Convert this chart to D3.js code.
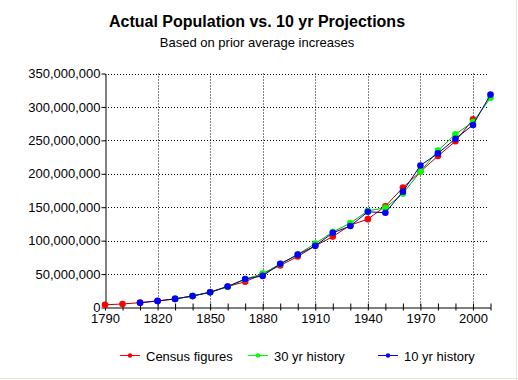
<!DOCTYPE html>
<html>
<head>
<meta charset="utf-8">
<script src="https://cdn.jsdelivr.net/npm/d3@7"></script>
<style>
  body { margin: 0; background: #fff; }
  svg { display: block; font-family: "Liberation Sans", Arial, sans-serif; }
</style>
</head>
<body>
<div id="chart"></div>
<script>
// census years and values (millions)
var years = [1790,1800,1810,1820,1830,1840,1850,1860,1870,1880,1890,1900,1910,1920,1930,1940,1950,1960,1970,1980,1990,2000,2010];
var census = [3.93,5.31,7.24,9.64,12.87,17.07,23.19,31.44,38.56,50.19,62.98,76.21,92.23,106.02,123.2,132.16,151.33,179.32,203.3,226.54,248.71,281.42,null];
var hist30 = [null,null,null,null,13.0,17.29,22.72,31.07,42.35,50.6,64.92,79.39,95.64,112.96,126.14,144.6,149.0,170.4,203.24,234.67,259.19,277.36,313.64];
var hist10 = [null,null,7.17,9.87,12.84,17.18,22.64,31.5,42.62,47.29,65.33,79.03,92.22,111.62,121.87,143.16,141.77,173.28,212.49,230.49,252.44,273.05,318.43];
var seriesNames = ["Census figures","30 yr history","10 yr history"];
var yTicks = [0,50,100,150,200,250,300,350];
var xLabels = [1790,1820,1850,1880,1910,1940,1970,2000];

var w = 518, h = 380;
var plotL = 105, plotR = 490.5, plotT = 73.5, plotB = 307.5;

var svg = d3.select("#chart").append("svg")
  .attr("width", w).attr("height", h);

svg.append("rect").attr("width", w).attr("height", h).attr("fill", "#fff");
// faint frame at right and bottom
svg.append("line").attr("x1", w - 1.5).attr("x2", w - 1.5).attr("y1", 0).attr("y2", h)
  .attr("stroke", "#e4e4dc");
svg.append("line").attr("x1", 0).attr("x2", w).attr("y1", h - 1.5).attr("y2", h - 1.5)
  .attr("stroke", "#e4e4dc");

var x = d3.scaleLinear().domain([1790, 2010]).range([plotL, plotR]);
var y = d3.scaleLinear().domain([0, 350]).range([plotB, plotT]);

svg.append("text").attr("x", 257).attr("y", 27).attr("text-anchor", "middle")
  .style("font-size", "16px").style("font-weight", "bold").text("Actual Population vs. 10 yr Projections");
svg.append("text").attr("x", 257).attr("y", 47).attr("text-anchor", "middle")
  .style("font-size", "13px").text("Based on prior average increases");

// grid
svg.append("g").selectAll("line").data(yTicks.slice(1)).enter().append("line")
  .attr("x1", plotL).attr("x2", plotR - 2)
  .attr("y1", function(d){ return Math.round(y(d)) + 0.5; })
  .attr("y2", function(d){ return Math.round(y(d)) + 0.5; })
  .attr("stroke", "#000").attr("stroke-dasharray", "1,2");
svg.append("g").selectAll("line").data(xLabels.slice(1)).enter().append("line")
  .attr("x1", function(d){ return Math.round(x(d)) + 0.5; })
  .attr("x2", function(d){ return Math.round(x(d)) + 0.5; })
  .attr("y1", plotT).attr("y2", plotB)
  .attr("stroke", "#000").attr("stroke-dasharray", "1,2");

// y axis
var yAxis = d3.axisLeft(y).tickValues(yTicks).tickSize(4).tickSizeOuter(0)
  .tickFormat(function(d){ return d === 0 ? "0" : d3.format(",")(d * 1000000); });
var gy = svg.append("g").attr("transform", "translate(" + (plotL + 0.5) + ",0)").call(yAxis);
gy.select(".domain").attr("stroke", "#000");
gy.selectAll("text").style("font-size", "13px").attr("fill", "#000").attr("x", -5);

// x axis
var xAxis = d3.axisBottom(x).tickValues(years).tickSize(4).tickSizeOuter(0)
  .tickFormat(function(d){ return xLabels.indexOf(d) >= 0 ? d : ""; });
var gx = svg.append("g").attr("transform", "translate(0," + plotB + ")").call(xAxis);
gx.select(".domain").attr("stroke", "#000");
gx.selectAll(".tick line").attr("y1", -4).attr("y2", 3);
gx.selectAll("text").style("font-size", "13px").attr("fill", "#000").attr("y", 6);

var lineColors = ["#b00000", "#00b000", "#000090"];
var dotColors = ["#ff0000", "#00ff00", "#0000ff"];
var data = [census, hist30, hist10];

var line = d3.line()
  .defined(function(d){ return d.v != null; })
  .x(function(d){ return x(d.yr); })
  .y(function(d){ return y(d.v); });

data.forEach(function(vals, i) {
  var pts = years.map(function(yr, j){ return {yr: yr, v: vals[j]}; });
  svg.append("path").datum(pts)
    .attr("d", line).attr("fill", "none")
    .attr("stroke", lineColors[i]).attr("stroke-width", 1);
  svg.append("g").selectAll("circle")
    .data(pts.filter(function(d){ return d.v != null; }))
    .enter().append("circle")
    .attr("cx", function(d){ return x(d.yr); })
    .attr("cy", function(d){ return y(d.v); })
    .attr("r", 3.3)
    .attr("fill", dotColors[i]);
});

// legend
var legendX = [120, 248, 378];
var legend = svg.selectAll(".legend").data(seriesNames).enter().append("g")
  .attr("class", "legend")
  .attr("transform", function(d, i){ return "translate(" + legendX[i] + ",355)"; });
legend.append("line").attr("x1", 0).attr("x2", 20).attr("y1", 0.5).attr("y2", 0.5)
  .attr("stroke", function(d, i){ return dotColors[i]; });
legend.append("circle").attr("cx", 10).attr("cy", 0.5).attr("r", 2.2)
  .attr("fill", function(d, i){ return dotColors[i]; });
legend.append("text").attr("x", 26).attr("y", 5.5)
  .style("font-size", "13px").text(function(d){ return d; });
</script>
</body>
</html>
